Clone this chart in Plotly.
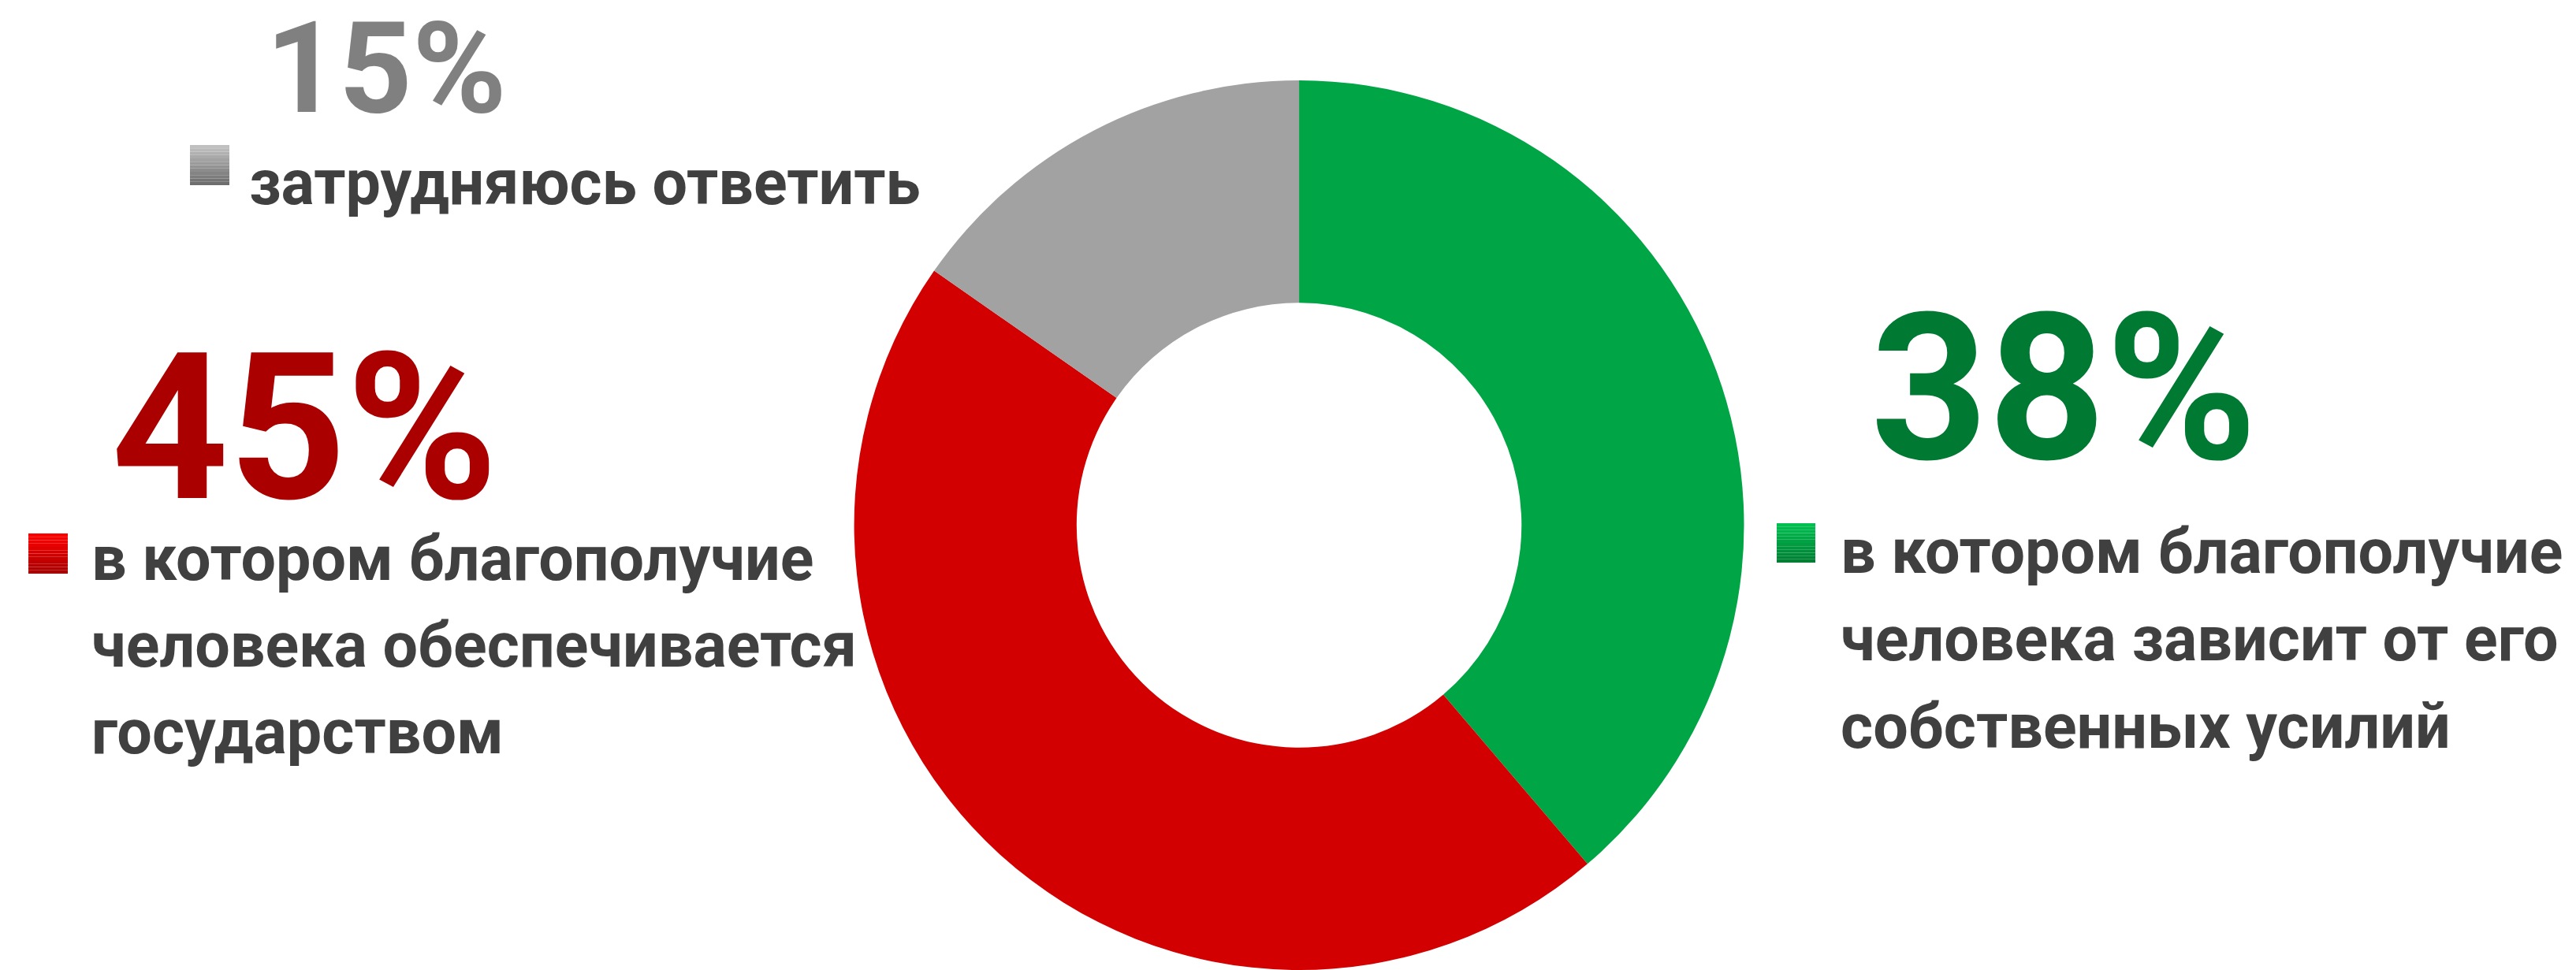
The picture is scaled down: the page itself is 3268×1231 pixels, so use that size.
import plotly.graph_objects as go

# ---------------- data ----------------
categories = [
    "в котором благополучие человека зависит от его собственных усилий",
    "в котором благополучие человека обеспечивается государством",
    "затрудняюсь ответить",
]
values = [38, 45, 15]
pct_labels = ["38%", "45%", "15%"]
label_lines = [
    ["в котором благополучие", "человека зависит от его", "собственных усилий"],
    ["в котором благополучие", "человека обеспечивается", "государством"],
    ["затрудняюсь ответить"],
]

# ---------------- style ----------------
W, H = 3268, 1231
slice_colors = ["#00A545", "#D20000", "#A2A2A2"]
pct_colors = ["#007A33", "#AA0000", "#808080"]
square_top = [(0, 191, 80), (255, 0, 0), (192, 192, 192)]
square_bot = [(0, 127, 51), (168, 0, 0), (110, 110, 110)]
text_color = "#404040"
FONT = "Roboto"
DESC = 0.244  # descent fraction of font size

# layout positions (pixels from top-left) for each category block
blocks = [
    dict(pct_x=2372, pct_base=582, pct_fs=260,
         sq=(2254, 2303, 664, 714), line_x=2334, line_base=[728, 839, 950], line_fs=79),
    dict(pct_x=140, pct_base=632, pct_fs=260,
         sq=(36, 86, 677, 728), line_x=115, line_base=[737, 847, 957], line_fs=79),
    dict(pct_x=336, pct_base=142, pct_fs=162,
         sq=(241, 291, 184, 235), line_x=315, line_base=[260], line_fs=79),
]


def px(x):
    return x / W


def py(y):
    return 1 - y / H


fig = go.Figure()
fig.add_trace(go.Pie(
    labels=categories,
    values=values,
    hole=0.5,
    sort=False,
    direction="clockwise",
    rotation=0,
    marker=dict(colors=slice_colors, line=dict(width=0)),
    textinfo="none",
    hoverinfo="label+percent",
    showlegend=False,
    domain=dict(x=[0.3207, 0.6879], y=[0.0, 0.9171]),
))

annotations = []
shapes = []
for i, b in enumerate(blocks):
    fs = b["pct_fs"]
    annotations.append(dict(
        text=f"<b>{pct_labels[i]}</b>", x=px(b["pct_x"]),
        y=py(b["pct_base"] - 0.342 * fs),
        xref="paper", yref="paper", xanchor="left", yanchor="middle",
        height=round(0.8 * fs), valign="middle",
        showarrow=False, borderpad=0,
        font=dict(family=FONT, size=fs, color=pct_colors[i]),
    ))
    for line, base in zip(label_lines[i], b["line_base"]):
        annotations.append(dict(
            text=f"<b>{line}</b>", x=px(b["line_x"]),
            y=py(base + DESC * b["line_fs"]),
            xref="paper", yref="paper", xanchor="left", yanchor="bottom",
            showarrow=False, borderpad=0,
            font=dict(family=FONT, size=b["line_fs"], color=text_color),
        ))
    # legend square with vertical gradient (stacked strips)
    x0, x1, y0, y1 = b["sq"]
    n = 12
    for k in range(n):
        t = k / (n - 1)
        c = tuple(round(square_top[i][j] + (square_bot[i][j] - square_top[i][j]) * t) for j in range(3))
        ya = y0 + (y1 - y0) * k / n
        yb = y0 + (y1 - y0) * (k + 1) / n
        shapes.append(dict(
            type="rect", xref="paper", yref="paper",
            x0=px(x0), x1=px(x1), y0=py(yb), y1=py(ya),
            fillcolor=f"rgb{c}", line=dict(width=0), layer="above",
        ))

fig.update_layout(
    width=W, height=H,
    margin=dict(l=0, r=0, t=0, b=0),
    paper_bgcolor="white", plot_bgcolor="white",
    annotations=annotations, shapes=shapes,
    showlegend=False,
)

fig.write_html("out.html", config={"displayModeBar": False},
               post_script="document.body.style.margin='0';document.body.style.overflow='hidden';")
